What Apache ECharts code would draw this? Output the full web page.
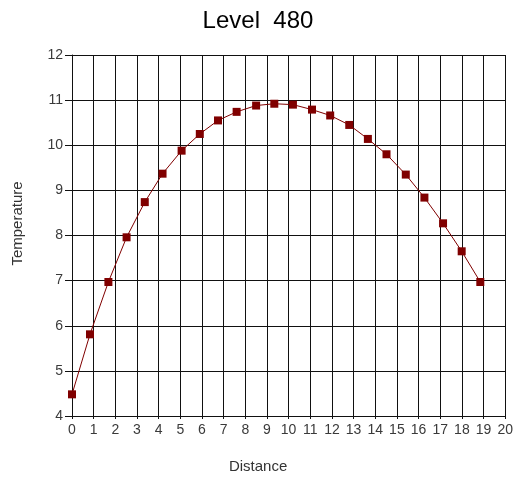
<!DOCTYPE html>
<html>
<head>
<meta charset="utf-8">
<script src="https://cdn.jsdelivr.net/npm/echarts@6/dist/echarts.min.js"></script>
<style>
  html, body { margin: 0; padding: 0; background: #fff; }
  #chart { width: 516px; height: 479px; }
</style>
</head>
<body>
<div id="chart"></div>
<script>
// Temperature profile along distance at level 480
const distance = [0, 0.83, 1.68, 2.52, 3.36, 4.18, 5.06, 5.90, 6.74, 7.60, 8.50, 9.34,
                  10.20, 11.08, 11.92, 12.80, 13.66, 14.52, 15.41, 16.27, 17.13, 17.99, 18.85];
const temperature = [4.48, 5.81, 6.97, 7.96, 8.74, 9.37, 9.88, 10.25, 10.55, 10.74, 10.88, 10.92,
                     10.90, 10.79, 10.66, 10.45, 10.14, 9.80, 9.35, 8.84, 8.27, 7.65, 6.97];
const xTicks = { min: 0, max: 20, step: 1 };
const yTicks = { min: 4, max: 12, step: 1 };

const points = distance.map((d, i) => [d, temperature[i]]);
const font = 'Liberation Sans, Arial, sans-serif';

const chart = echarts.init(document.getElementById('chart'));
chart.setOption({
  animation: false,
  backgroundColor: '#fff',
  title: {
    text: 'Level  480',
    left: 'center',
    top: 4,
    textStyle: { fontFamily: font, fontSize: 24, fontWeight: 'normal', color: '#000' }
  },
  grid: { left: 72, right: 10, top: 55, bottom: 63, containLabel: false },
  xAxis: {
    type: 'value',
    min: xTicks.min, max: xTicks.max, interval: xTicks.step,
    name: 'Distance',
    nameLocation: 'middle',
    nameGap: 43,
    // axis titles are centred on the whole chart rather than on the plot area
    nameTextStyle: { fontFamily: font, fontSize: 15, color: '#333', padding: [0, 61, 0, 0] },
    axisLine: { lineStyle: { color: '#111', width: 1 } },
    axisTick: { show: true, length: 3, lineStyle: { color: '#111' } },
    axisLabel: { fontFamily: font, fontSize: 14, color: '#3a3a3a', margin: 7 },
    splitLine: { show: true, lineStyle: { color: '#111', width: 1 } }
  },
  yAxis: {
    type: 'value',
    min: yTicks.min, max: yTicks.max, interval: yTicks.step,
    name: 'Temperature',
    nameLocation: 'middle',
    nameGap: 47,
    nameTextStyle: { fontFamily: font, fontSize: 15, color: '#333', padding: [0, 0, 0, 24] },
    axisLine: { show: true, lineStyle: { color: '#111', width: 1 } },
    axisTick: { show: true, length: 7, lineStyle: { color: '#111' } },
    axisLabel: { fontFamily: font, fontSize: 14, color: '#3a3a3a', margin: 9 },
    splitLine: { show: true, lineStyle: { color: '#111', width: 1 } }
  },
  series: [{
    type: 'line',
    data: points,
    symbol: 'rect',
    symbolSize: 8,
    itemStyle: { color: '#800000' },
    lineStyle: { color: '#800000', width: 1 }
  }]
});
</script>
</body>
</html>
